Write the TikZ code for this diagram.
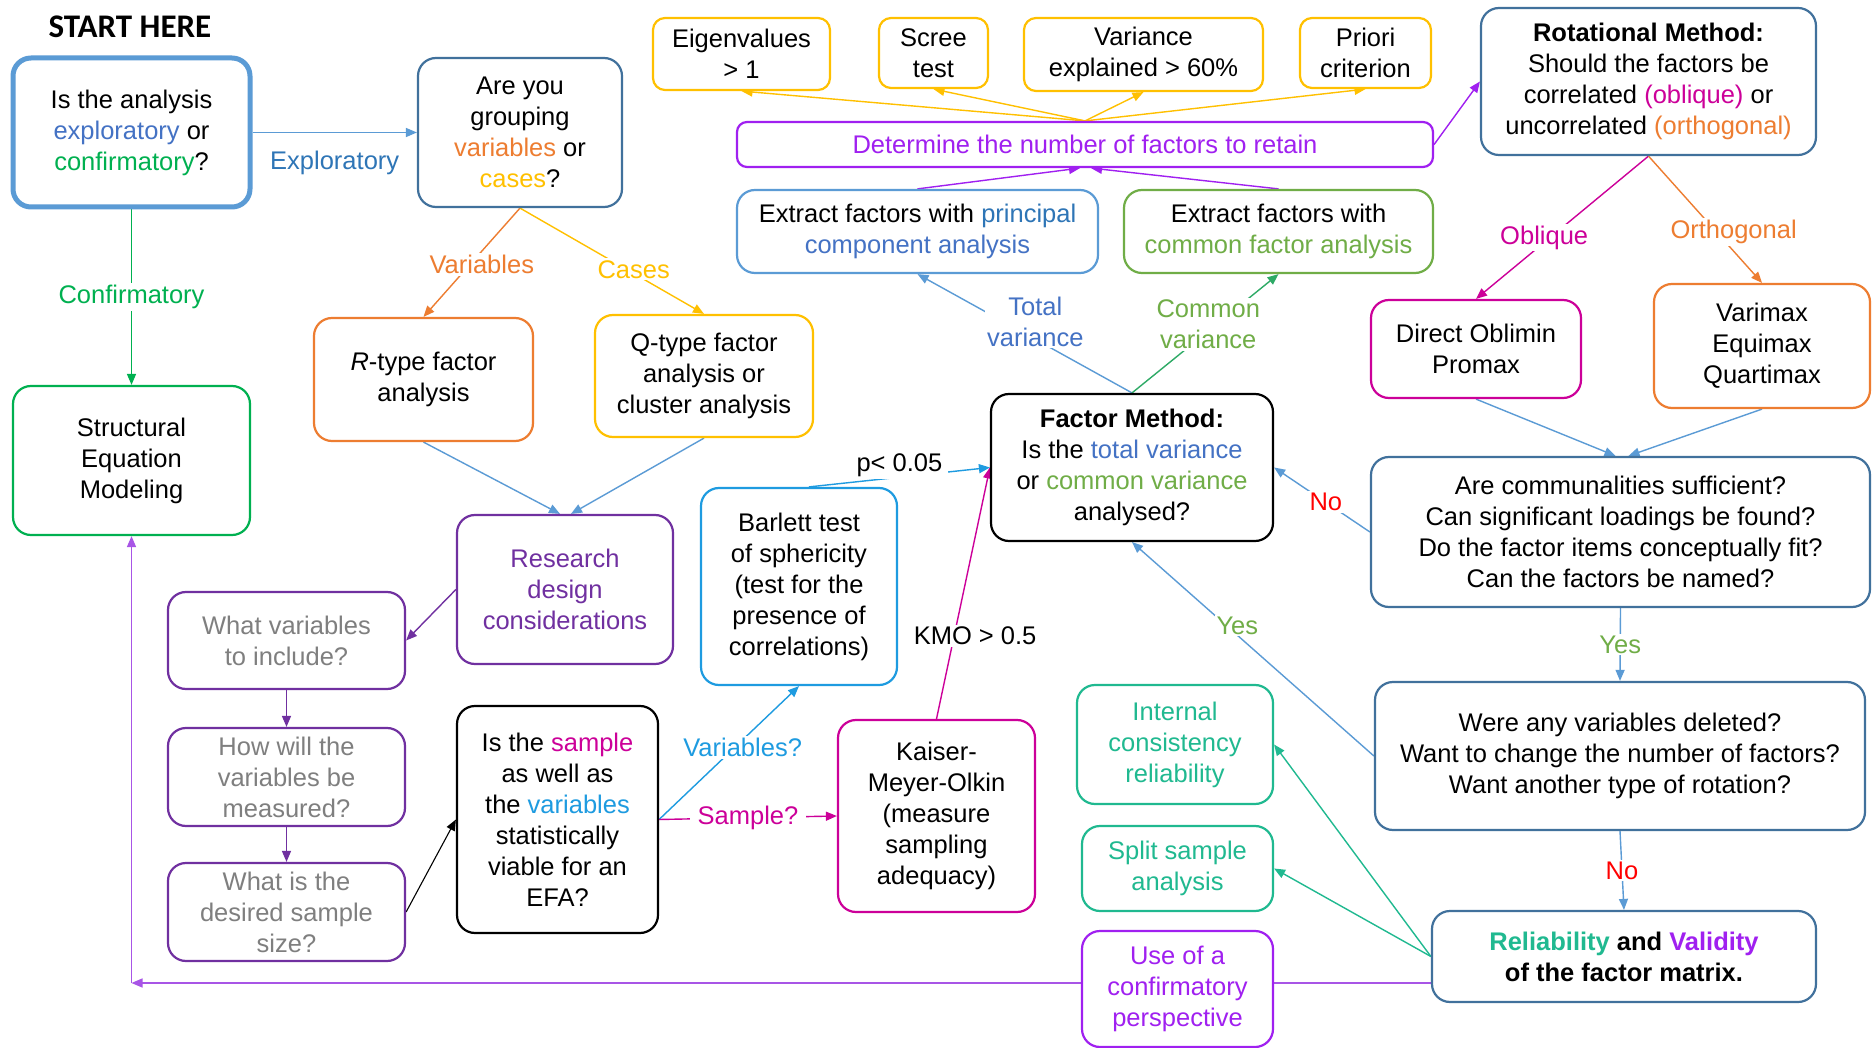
\documentclass[tikz,border=0pt]{standalone}
\usepackage{fontspec}
\setmainfont{Liberation Sans}
\newfontfamily\startfont{Carlito}
\usetikzlibrary{arrows.meta,calc,backgrounds}
\definecolor{cLB}{HTML}{5B9BD5}
\definecolor{cSteel}{HTML}{41719C}
\definecolor{cTB}{HTML}{4472C4}
\definecolor{cDB}{HTML}{2E75B6}
\definecolor{cGreen}{HTML}{00B050}
\definecolor{cOl}{HTML}{70AD47}
\definecolor{cOr}{HTML}{ED7D31}
\definecolor{cYe}{HTML}{FFC000}
\definecolor{cPu}{HTML}{7030A0}
\definecolor{cGr}{HTML}{7F7F7F}
\definecolor{cBB}{HTML}{1E9BE0}
\definecolor{cMa}{HTML}{CC0099}
\definecolor{cVi}{HTML}{A020F0}
\definecolor{cTe}{HTML}{20B990}
\definecolor{cRed}{HTML}{FF0000}
\definecolor{cVL}{HTML}{A855E6}
\definecolor{cCg}{HTML}{2EAA66}
\newcommand{\myfs}{\fontsize{25.5}{31}\selectfont}
\begin{document}
\begin{tikzpicture}[x=1pt,y=-1pt,
 box/.style={draw, rounded corners=18pt, line width=2.2pt, align=center, inner sep=0pt, fill=white, font=\myfs},
 conn/.style={line width=1.4pt},
 arr/.style={conn,-{Triangle[length=11pt,width=9pt]}},
 lbl/.style={fill=white, inner sep=2pt, font=\myfs, align=center}]
\useasboundingbox (0,0) rectangle (1872,1048);

\node[font=\startfont\bfseries\fontsize{33}{38}\selectfont] (start) at (130,27) {START HERE};

\node[box, draw=cLB, line width=5pt, minimum width=237pt, minimum height=149pt] (n1) at (131.5,132.5) {Is the analysis\\\textcolor{cTB}{exploratory} or\\\textcolor{cGreen}{confirmatory}?};
\node[box, draw=cSteel, minimum width=204pt, minimum height=149pt] (n2) at (520,132.5) {Are you\\grouping\\\textcolor{cOr}{variables} or\\\textcolor{cYe}{cases}?};
\node[box, draw=cGreen, minimum width=237pt, minimum height=149pt] (sem) at (131.5,460.5) {Structural\\Equation\\Modeling};
\node[box, draw=cOr, minimum width=219pt, minimum height=123pt] (rtype) at (423.5,379.5) {\textit{R}-type factor\\analysis};
\node[box, draw=cYe, minimum width=218pt, minimum height=122pt] (qtype) at (704,376) {Q-type factor\\analysis or\\cluster analysis};
\node[box, draw=cPu, text=cPu, minimum width=216pt, minimum height=149pt] (research) at (565,589.5) {Research\\design\\considerations};
\node[box, draw=cPu, text=cGr, minimum width=237pt, minimum height=97pt] (whatvar) at (286.5,640.5) {What variables\\to include?};
\node[box, draw=cPu, text=cGr, minimum width=237pt, minimum height=98pt] (howwill) at (286.5,777) {How will the\\variables be\\measured?};
\node[box, draw=cPu, text=cGr, minimum width=237pt, minimum height=98pt] (whatsize) at (286.5,912) {What is the\\desired sample\\size?};
\node[box, draw=black, minimum width=201pt, minimum height=227pt] (issample) at (557.5,819.5) {Is the \textcolor{cMa}{sample}\\as well as\\the \textcolor{cBB}{variables}\\statistically\\viable for an\\EFA?};
\node[box, draw=cBB, minimum width=196pt, minimum height=197pt] (barlett) at (799,586.5) {Barlett test\\of sphericity\\(test for the\\presence of\\correlations)};
\node[box, draw=cMa, minimum width=197pt, minimum height=192pt] (kmo) at (936.5,816) {Kaiser-\\Meyer-Olkin\\(measure\\sampling\\adequacy)};
\node[box, draw=black, minimum width=282pt, minimum height=147pt] (fm) at (1132,467.5) {\textbf{Factor Method:}\\Is the \textcolor{cTB}{total variance}\\or \textcolor{cOl}{common variance}\\analysed?};
\node[box, draw=cLB, minimum width=361pt, minimum height=83pt] (pca) at (917.5,231.5) {Extract factors with \textcolor{cDB}{principal}\\\textcolor{cTB}{component analysis}};
\node[box, draw=cOl, minimum width=309pt, minimum height=83pt] (cfa) at (1278.5,231.5) {Extract factors with\\\textcolor{cOl}{common factor analysis}};
\node[box, draw=cVi, text=cVi, rounded corners=10pt, minimum width=696pt, minimum height=45pt] (det) at (1085,144.5) {Determine the number of factors to retain};
\node[box, draw=cYe, rounded corners=12pt, minimum width=177pt, minimum height=72pt] (eig) at (741.5,54) {Eigenvalues\\> 1};
\node[box, draw=cYe, rounded corners=12pt, minimum width=109pt, minimum height=70pt] (scree) at (933.5,53) {Scree\\test};
\node[box, draw=cYe, rounded corners=12pt, minimum width=239pt, minimum height=73pt] (varexp) at (1143.5,54.5) {Variance\\explained > 60\%};
\node[box, draw=cYe, rounded corners=12pt, minimum width=131pt, minimum height=70pt] (priori) at (1365.5,53) {Priori\\criterion};
\node[box, draw=cSteel, minimum width=335pt, minimum height=147pt] (rot) at (1648.5,81.5) {\textbf{Rotational Method:}\\Should the factors be\\correlated \textcolor{cMa}{(oblique)} or\\uncorrelated \textcolor{cOr}{(orthogonal)}};
\node[box, draw=cMa, minimum width=210pt, minimum height=98pt] (oblimin) at (1476,349) {Direct Oblimin\\Promax};
\node[box, draw=cOr, minimum width=216pt, minimum height=124pt] (varimax) at (1762,346) {Varimax\\Equimax\\Quartimax};
\node[box, draw=cSteel, minimum width=499pt, minimum height=150pt] (comm) at (1620.5,532) {Are communalities sufficient?\\Can significant loadings be found?\\Do the factor items conceptually fit?\\Can the factors be named?};
\node[box, draw=cSteel, minimum width=490pt, minimum height=148pt] (were) at (1620,756) {Were any variables deleted?\\Want to change the number of factors?\\Want another type of rotation?};
\node[box, draw=cSteel, minimum width=384pt, minimum height=91pt] (rel) at (1624,956.5) {\textbf{\textcolor{cTe}{Reliability} and \textcolor{cVi}{Validity}}\\\textbf{of the factor matrix.}};
\node[box, draw=cTe, text=cTe, minimum width=196pt, minimum height=119pt] (internal) at (1175,744.5) {Internal\\consistency\\reliability};
\node[box, draw=cTe, text=cTe, minimum width=191pt, minimum height=85pt] (split) at (1177.5,868.5) {Split sample\\analysis};
\node[box, draw=cVi, text=cVi, minimum width=191pt, minimum height=116pt] (use) at (1177.5,989) {Use of a\\confirmatory\\perspective};
\coordinate (corner) at (131.5,983);

\begin{scope}[on background layer]
\fill[white] (0,0) rectangle (1872,1048);
\draw[arr, cLB] (n1.east) -- node[pos=0.5, yshift=-30pt, font=\myfs, text=cDB]{Exploratory} (n2.west);
\draw[arr, cGreen] (n1.south) -- node[lbl, text=cGreen]{Confirmatory} (sem.north);
\draw[arr, cOr] (n2.south) -- node[lbl, text=cOr, pos=0.52, xshift=12pt]{Variables} (rtype.north);
\draw[arr, cYe] (n2.south) -- node[lbl, text=cYe, pos=0.58, xshift=7pt]{Cases} (qtype.north);
\draw[arr, cLB] (rtype.south) -- ($(research.north)+(-5,0)$);
\draw[arr, cLB] (qtype.south) -- ($(research.north)+(6,0)$);
\draw[arr, cPu] (research.west) -- (whatvar.east);
\draw[arr, cPu] (whatvar.south) -- (howwill.north);
\draw[arr, cPu] (howwill.south) -- (whatsize.north);
\draw[arr, black, line width=1.1pt] (whatsize.east) -- (issample.west);
\draw[arr, cBB] (issample.east) -- node[lbl, text=cBB, pos=0.54, xshift=8pt]{Variables?} (barlett.south);
\draw[arr, cMa] (issample.east) -- node[lbl, text=cMa, inner xsep=8pt]{Sample?} (kmo.west);
\draw[arr, cBB] ($(barlett.north)+(10,0)$) -- node[lbl, text=black, pos=0.5, yshift=12pt, inner xsep=6pt]{p< 0.05} (fm.west);
\draw[arr, cMa] (kmo.north) -- node[lbl, text=black, pos=0.33, xshift=21pt]{KMO > 0.5} (fm.west);
\draw[arr, cLB] (fm.north) -- node[lbl, text=cTB, pos=0.6, xshift=32pt]{Total\\variance} (pca.south);
\draw[arr, cCg] (fm.north) -- node[lbl, text=cOl, pos=0.575, xshift=-8pt]{Common\\variance} (cfa.south);
\draw[arr, cVi] (pca.north) -- ($(det.south)+(-5,0)$);
\draw[arr, cVi] (cfa.north) -- ($(det.south)+(6,0)$);
\draw[arr, cYe] (det.north) -- (eig.south);
\draw[arr, cYe] (det.north) -- (scree.south);
\draw[arr, cYe] (det.north) -- (varexp.south);
\draw[arr, cYe] (det.north) -- (priori.south);
\draw[arr, cVi] (det.east) -- (rot.west);
\draw[arr, cMa] (rot.south) -- node[lbl, text=cMa, pos=0.57, xshift=-6pt]{Oblique} (oblimin.north);
\draw[arr, cOr] (rot.south) -- node[lbl, text=cOr, pos=0.6, xshift=17pt]{Orthogonal} (varimax.north);
\draw[arr, cLB] (oblimin.south) -- ($(comm.north)+(-5,0)$);
\draw[arr, cLB] (varimax.south) -- ($(comm.north)+(8,0)$);
\draw[arr, cLB] (comm.west) -- node[lbl, text=cRed, pos=0.46]{No} (fm.east);
\draw[arr, cLB] (comm.south) -- node[lbl, text=cOl]{Yes} (were.north);
\draw[arr, cLB] (were.west) -- node[lbl, text=cOl, pos=0.61, xshift=11pt]{Yes} (fm.south);
\draw[arr, cLB] (were.south) -- node[lbl, text=cRed]{No} (rel.north);
\draw[arr, cTe] (rel.west) -- (internal.east);
\draw[arr, cTe] (rel.west) -- (split.east);
\draw[arr, cVL] ($(rel.west)+(0,26.5)$) -- (corner);
\draw[arr, cVL] (corner) -- (sem.south);
\end{scope}
\end{tikzpicture}
\end{document}
